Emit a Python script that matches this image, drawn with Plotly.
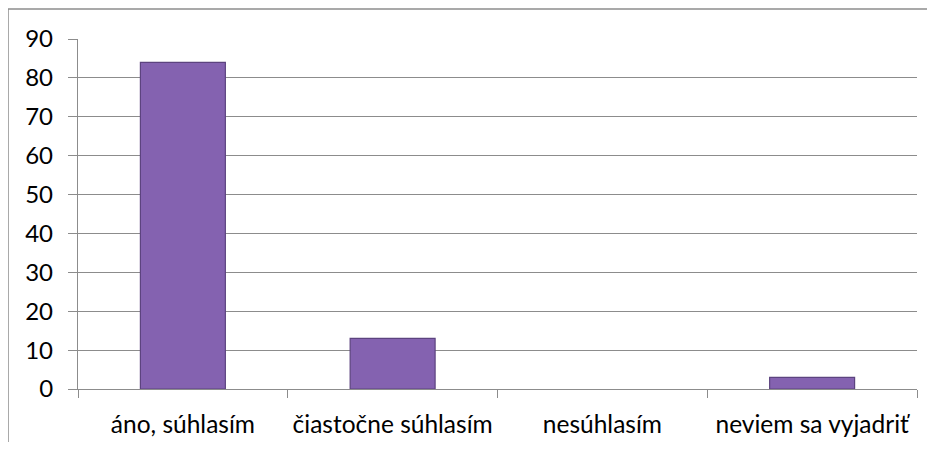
import plotly.graph_objects as go

categories = ["áno, súhlasím", "čiastočne súhlasím", "nesúhlasím", "neviem sa vyjadriť"]
values = [84, 13, 0, 3]
y_ticks = [0, 10, 20, 30, 40, 50, 60, 70, 80, 90]

# page body has an 8px margin on every side; keep the figure inside the window
OFF = 8
W, H = 935 - 2 * OFF, 450 - 2 * OFF
L, T = 78 - OFF, 39 - OFF
R = W - (917 - OFF)
B = H - (389 - OFF)
pw, ph = W - L - R, H - T - B

fig = go.Figure()
fig.add_trace(go.Bar(
    x=categories, y=values,
    marker=dict(color="#8462B0",
                line=dict(color="#5C437F", width=[1.2 if v > 0 else 0 for v in values])),
    width=0.405,
))

grid = "#8C8C8C"
fig.update_layout(
    width=W, height=H,
    margin=dict(l=L, r=R, t=T, b=B),
    paper_bgcolor="white", plot_bgcolor="white",
    showlegend=False,
    font=dict(family="Lato, Calibri, sans-serif", size=24, color="#000000"),
    xaxis=dict(
        automargin=False,
        showline=True, linecolor=grid, linewidth=1.3,
        ticks="outside", tickson="boundaries", ticklen=8, tickcolor=grid, tickwidth=1.3,
        showgrid=False, tickfont=dict(size=24.5), ticklabelstandoff=13,
    ),
    yaxis=dict(
        automargin=False,
        range=[0, 90], tickvals=y_ticks, showgrid=True, gridcolor=grid, gridwidth=1.3,
        showline=True, linecolor=grid, linewidth=1.3,
        ticks="outside", ticklen=9, tickcolor=grid, tickwidth=1.3,
        tickfont=dict(size=24), ticklabelstandoff=10, zeroline=False,
    ),
)

# outer chart frame (top and left edges visible)
x0 = (8 - OFF - L) / pw
y0 = (H - B - (9 - OFF)) / ph
fig.add_shape(type="line", xref="paper", yref="paper", x0=x0, x1=(W - L) / pw + 0.02, y0=y0, y1=y0,
              line=dict(color="#8C8C8C", width=1.5))
fig.add_shape(type="line", xref="paper", yref="paper", x0=x0, x1=x0, y0=y0, y1=-B / ph - 0.05,
              line=dict(color="#8C8C8C", width=1.5))

fig.write_html("out.html")
